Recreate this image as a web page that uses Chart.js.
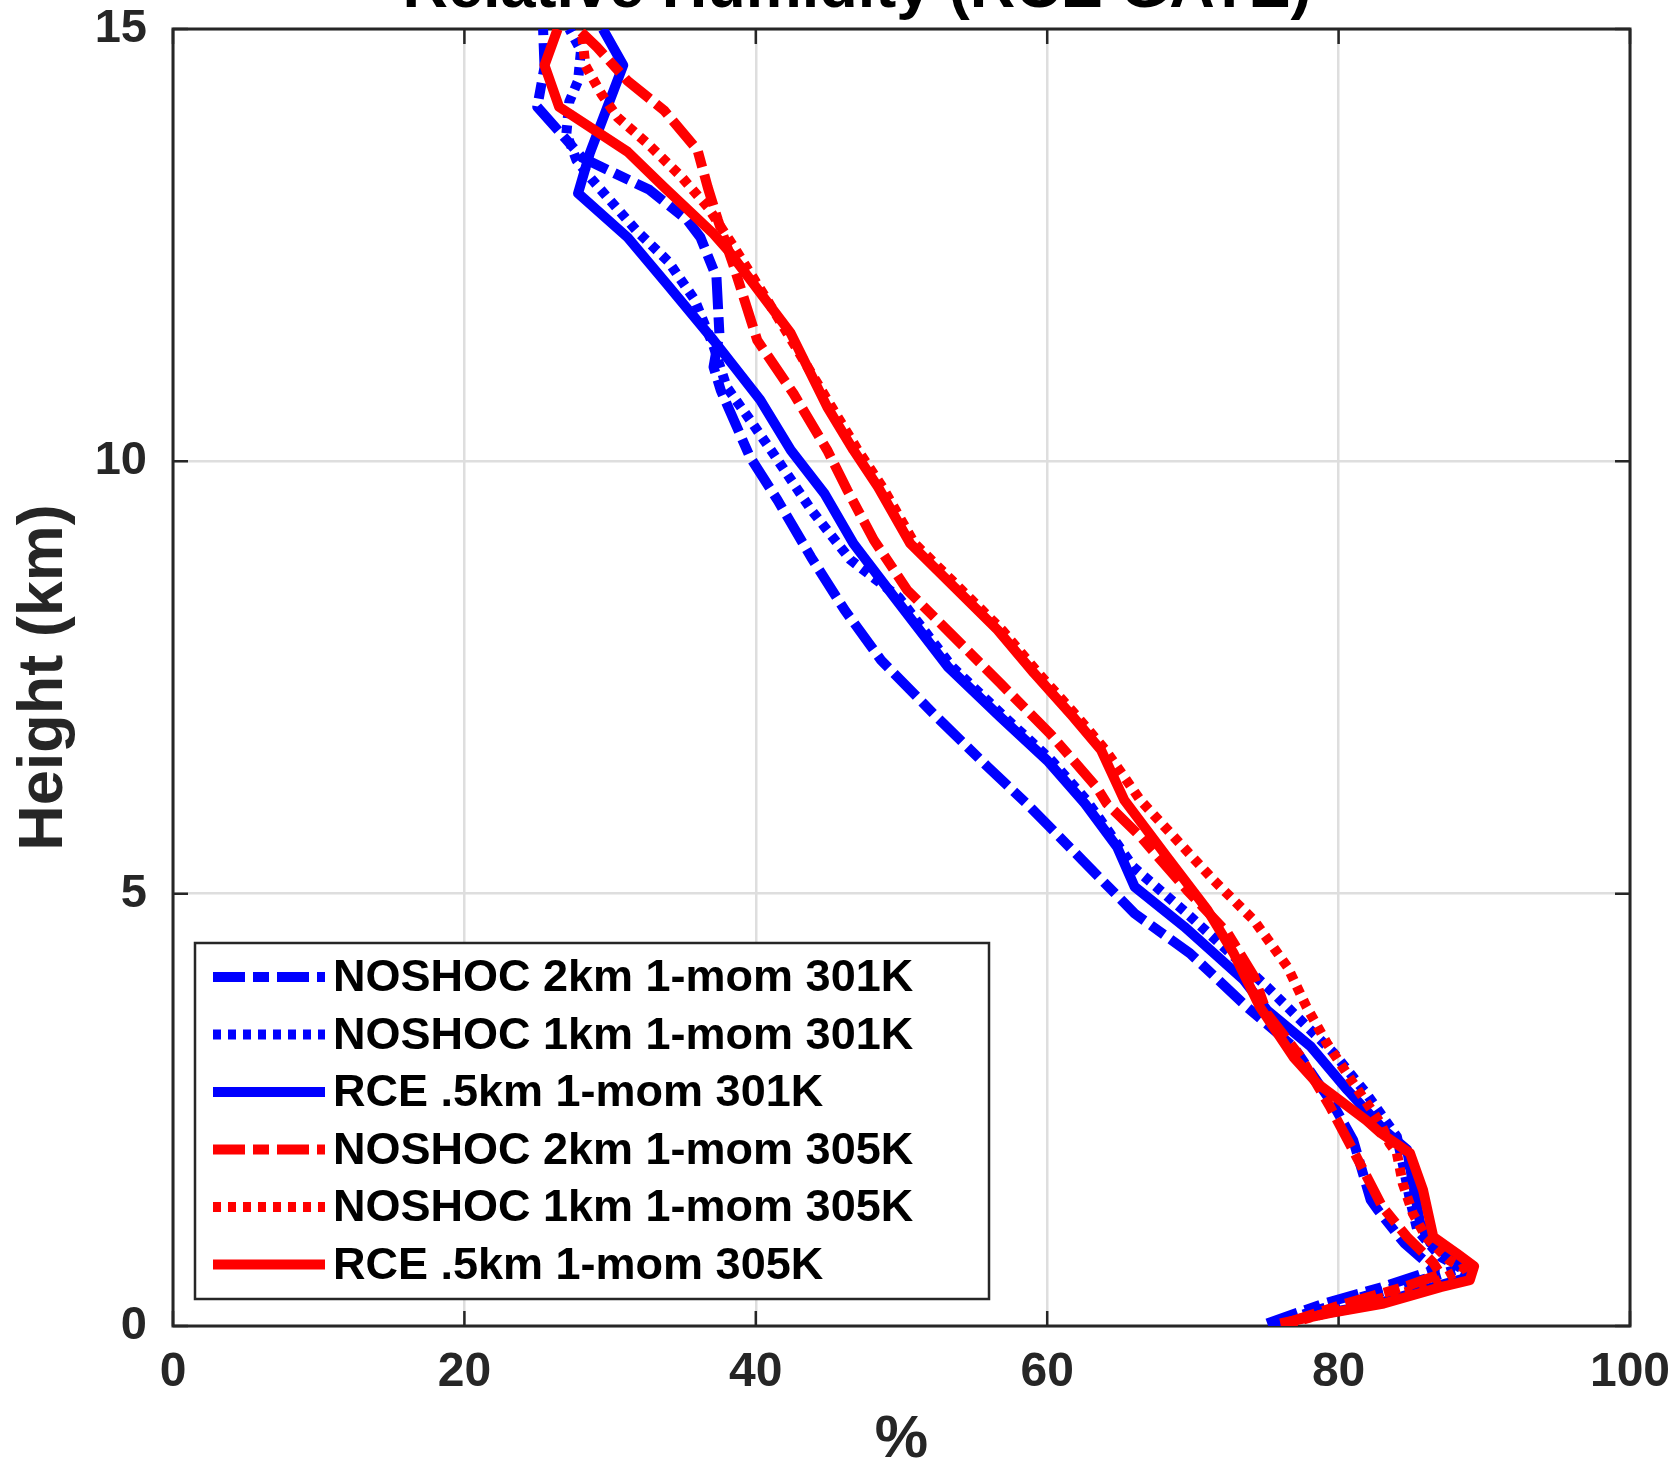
<!DOCTYPE html>
<html>
<head>
<meta charset="utf-8">
<script src="https://cdn.jsdelivr.net/npm/chart.js@4.4.1/dist/chart.umd.min.js"></script>
<style>
  html, body { margin: 0; padding: 0; background: #fff; overflow: hidden; width: 1668px; height: 1470px; }
  #wrap { position: absolute; left: 0; top: -42px; width: 1668px; height: 1512px; }
</style>
</head>
<body>
<div id="wrap"><canvas id="c" width="1668" height="1512"></canvas></div>
<script>
// Relative humidity profiles: height levels (km) and RH (%) for each run, bottom to top.
const noshoc2k301Height = [0.03, 0.26, 0.45, 0.65, 0.96, 1.34, 1.46, 2.15, 2.54, 3.23, 3.69, 4.31, 4.77, 5.39, 6.04, 6.47, 7.08, 7.70, 8.28, 8.89, 9.55, 10.05, 10.82, 11.09, 11.48, 12.13, 12.59, 12.79, 13.14, 13.51, 14.10, 14.56, 15.0];
const noshoc2k301Rh     = [75.1, 79.0, 83.0, 86.6, 84.5, 82.7, 82.2, 81.0, 79.7, 76.9, 73.7, 69.8, 66.0, 62.4, 58.6, 55.9, 52.2, 48.6, 46.1, 43.8, 41.5, 39.6, 37.6, 37.1, 37.5, 37.3, 36.2, 35.3, 32.7, 28.1, 25.0, 25.5, 25.4];

const noshoc1k301Height = [0.03, 0.26, 0.45, 0.67, 0.80, 1.11, 1.46, 1.88, 2.19, 2.69, 3.15, 3.92, 4.77, 5.31, 5.70, 6.08, 6.54, 7.04, 7.62, 8.43, 8.86, 9.44, 10.09, 10.48, 10.86, 11.33, 11.87, 12.31, 12.67, 13.25, 13.48, 13.79, 14.16, 14.40, 14.75, 15.0];
const noshoc1k301Rh     = [75.6, 80.0, 84.0, 88.4, 87.0, 85.4, 84.9, 84.4, 84.0, 81.9, 79.7, 75.1, 69.6, 65.9, 64.3, 62.7, 60.3, 57.1, 53.5, 49.8, 46.5, 43.8, 41.2, 39.6, 38.0, 37.1, 35.8, 34.0, 31.8, 28.8, 27.7, 27.0, 27.2, 27.8, 28.0, 27.2];

const rce301Height = [0.03, 0.15, 0.26, 0.45, 0.55, 0.69, 0.80, 0.96, 1.19, 1.65, 2.04, 2.27, 2.73, 3.23, 3.65, 4.00, 4.62, 5.08, 5.54, 6.04, 6.54, 7.04, 7.62, 8.43, 9.05, 9.63, 10.13, 10.71, 11.40, 12.05, 12.59, 13.10, 13.56, 14.58, 15.0];
const rce301Rh     = [75.8, 79.2, 82.7, 86.5, 88.6, 88.9, 87.6, 86.3, 85.6, 85.1, 84.7, 83.1, 80.6, 78.1, 75.1, 73.5, 69.4, 66.0, 64.8, 62.6, 60.0, 56.8, 53.2, 49.5, 46.7, 44.7, 42.4, 40.3, 37.1, 33.9, 31.2, 27.8, 28.6, 30.9, 29.5];

const noshoc2k305Height = [0.03, 0.26, 0.45, 0.60, 0.73, 1.03, 1.38, 2.03, 2.54, 3.11, 3.61, 4.04, 4.54, 5.04, 5.66, 6.04, 6.23, 6.85, 7.43, 7.97, 8.51, 9.09, 9.66, 10.13, 10.78, 11.40, 12.25, 12.79, 13.17, 13.60, 14.06, 14.40, 14.79, 15.0];
const noshoc2k305Rh     = [76.3, 80.5, 84.5, 87.0, 86.5, 84.7, 83.0, 81.0, 79.4, 77.4, 75.1, 74.2, 72.4, 69.6, 66.4, 64.1, 63.4, 60.2, 56.8, 53.6, 50.4, 48.1, 46.3, 44.9, 42.6, 40.1, 38.5, 37.4, 36.7, 36.0, 33.7, 31.2, 29.1, 27.8];

const noshoc1k305Height = [0.03, 0.26, 0.45, 0.67, 0.76, 1.03, 1.30, 1.65, 2.00, 2.11, 2.34, 2.81, 3.27, 3.69, 4.15, 4.69, 5.16, 5.62, 6.08, 6.66, 7.04, 7.55, 8.05, 8.55, 9.05, 9.70, 10.13, 10.63, 11.36, 11.86, 12.48, 12.94, 13.29, 13.67, 13.98, 14.25, 14.58, 14.90, 15.0];
const noshoc1k305Rh     = [76.6, 81.5, 86.0, 88.6, 87.6, 86.0, 85.1, 84.4, 84.0, 83.5, 82.9, 81.0, 79.2, 77.8, 76.5, 74.2, 71.4, 68.9, 66.4, 64.0, 62.1, 59.4, 56.9, 53.9, 50.9, 48.7, 47.0, 45.2, 42.6, 40.8, 38.5, 36.7, 34.9, 32.6, 30.5, 29.4, 28.3, 28.1, 28.0];

const rce305Height = [0.03, 0.15, 0.26, 0.45, 0.53, 0.69, 0.84, 1.03, 1.57, 2.00, 2.23, 2.38, 2.81, 3.11, 3.69, 4.31, 4.81, 5.43, 6.08, 6.66, 7.04, 7.55, 8.05, 8.55, 9.05, 9.70, 10.13, 10.63, 11.48, 12.44, 12.63, 13.17, 13.58, 14.10, 14.58, 15.0];
const rce305Rh     = [76.0, 79.4, 83.1, 87.0, 89.0, 89.3, 88.1, 86.5, 85.8, 84.9, 82.9, 81.9, 78.5, 76.9, 74.6, 72.8, 71.0, 68.2, 65.3, 63.7, 61.8, 59.1, 56.6, 53.6, 50.6, 48.4, 46.7, 44.9, 42.4, 38.1, 37.1, 33.7, 31.2, 26.5, 25.5, 26.4];

const seriesLabels = [
  'NOSHOC 2km 1-mom 301K',
  'NOSHOC 1km 1-mom 301K',
  'RCE .5km 1-mom 301K',
  'NOSHOC 2km 1-mom 305K',
  'NOSHOC 1km 1-mom 305K',
  'RCE .5km 1-mom 305K'
];
const xTickValues = [0, 20, 40, 60, 80, 100];
const yTickValues = [0, 5, 10, 15];

const FONT = "'Liberation Sans', Arial, Helvetica, sans-serif";
const BLUE = '#0000ff';
const RED = '#ff0000';
const DASH_DOT = [32, 8, 16, 8];
const DOTTED = [8, 7];
const LINE_W = 10;

const profiles = [
  [noshoc2k301Height, noshoc2k301Rh, BLUE, DASH_DOT],
  [noshoc1k301Height, noshoc1k301Rh, BLUE, DOTTED],
  [rce301Height, rce301Rh, BLUE, []],
  [noshoc2k305Height, noshoc2k305Rh, RED, DASH_DOT],
  [noshoc1k305Height, noshoc1k305Rh, RED, DOTTED],
  [rce305Height, rce305Rh, RED, []]
];

const datasets = profiles.map(([h, rh, color, dash], i) => ({
  label: seriesLabels[i],
  data: h.map((z, k) => ({ x: rh[k], y: z })),
  showLine: true,
  borderColor: color,
  backgroundColor: color,
  borderWidth: LINE_W,
  borderDash: dash,
  borderCapStyle: 'butt',
  borderJoinStyle: 'round',
  pointRadius: 0,
  pointHoverRadius: 0,
  tension: 0,
  fill: false,
  order: profiles.length - i
}));

// Axes box with inward tick marks on all four sides.
const axesBox = {
  id: 'axesBox',
  beforeDatasetsDraw(chart) {
    const { ctx, chartArea: a, scales: { x, y } } = chart;
    const len = 15;
    ctx.save();
    ctx.strokeStyle = '#262626';
    ctx.lineWidth = 2.5;
    ctx.beginPath();
    x.ticks.forEach(t => {
      const px = x.getPixelForValue(t.value);
      ctx.moveTo(px, a.bottom); ctx.lineTo(px, a.bottom - len);
      ctx.moveTo(px, a.top); ctx.lineTo(px, a.top + len);
    });
    y.ticks.forEach(t => {
      const py = y.getPixelForValue(t.value);
      ctx.moveTo(a.left, py); ctx.lineTo(a.left + len, py);
      ctx.moveTo(a.right, py); ctx.lineTo(a.right - len, py);
    });
    ctx.stroke();
    ctx.lineWidth = 3;
    ctx.strokeRect(a.left, a.top, a.right - a.left, a.bottom - a.top);
    ctx.restore();
  }
};

// Boxed legend in the lower-left corner of the plot area.
const boxedLegend = {
  id: 'boxedLegend',
  afterDraw(chart) {
    const { ctx, chartArea: a } = chart;
    const left = a.left + 22, width = 794, height = 356;
    const top = a.bottom - 27 - height;
    ctx.save();
    ctx.fillStyle = '#ffffff';
    ctx.fillRect(left, top, width, height);
    ctx.strokeStyle = '#262626';
    ctx.lineWidth = 2.5;
    ctx.strokeRect(left, top, width, height);
    ctx.font = "bold 45px " + FONT;
    ctx.textBaseline = 'middle';
    ctx.textAlign = 'left';
    chart.data.datasets.forEach((ds, i) => {
      const cy = top + 36 + i * 57.5;
      ctx.beginPath();
      ctx.setLineDash(ds.borderDash);
      ctx.lineCap = 'butt';
      ctx.lineWidth = 10;
      ctx.strokeStyle = ds.borderColor;
      ctx.moveTo(left + 18, cy - 2);
      ctx.lineTo(left + 130, cy - 2);
      ctx.stroke();
      ctx.setLineDash([]);
      ctx.fillStyle = '#000000';
      ctx.fillText(ds.label, left + 138, cy);
    });
    ctx.restore();
  }
};

new Chart(document.getElementById('c'), {
  type: 'scatter',
  data: { datasets },
  plugins: [axesBox, boxedLegend],
  options: {
    responsive: false,
    animation: false,
    devicePixelRatio: 1,
    layout: { padding: { left: 84, right: 38, top: 0, bottom: 0 } },
    plugins: {
      legend: { display: false },
      tooltip: { enabled: false },
      title: {
        display: true,
        text: 'Relative Humidity (RCE GATE)',
        color: '#000000',
        font: { family: FONT, size: 63, weight: 'bold', lineHeight: 1 },
        padding: { top: 0, bottom: 8 }
      }
    },
    scales: {
      x: {
        type: 'linear',
        min: 0, max: 100,
        afterBuildTicks: s => { s.ticks = xTickValues.map(v => ({ value: v })); },
        afterFit: s => { s.height = 144; s.paddingLeft = 0; s.paddingRight = 0; },
        ticks: {
          color: '#262626',
          padding: 23,
          maxRotation: 0,
          font: { family: FONT, size: 48, weight: 'bold', lineHeight: 1 }
        },
        grid: { color: '#dedede', lineWidth: 2.5, drawTicks: false },
        border: { display: false },
        title: {
          display: true,
          text: '%',
          color: '#262626',
          font: { family: FONT, size: 60, weight: 'bold', lineHeight: 1 },
          padding: { top: 0, bottom: 0 }
        }
      },
      y: {
        type: 'linear',
        min: 0, max: 15,
        afterBuildTicks: s => { s.ticks = yTickValues.map(v => ({ value: v })); },
        afterFit: s => { s.width = 89; s.paddingTop = 0; s.paddingBottom = 0; },
        ticks: {
          color: '#262626',
          padding: 26,
          font: { family: FONT, size: 47, weight: 'bold', lineHeight: 1 }
        },
        grid: { color: '#dedede', lineWidth: 2.5, drawTicks: false },
        border: { display: false },
        title: {
          display: true,
          text: 'Height (km)',
          color: '#262626',
          font: { family: FONT, size: 63, weight: 'bold', lineHeight: 1 },
          padding: { top: -70.5, bottom: 0 }
        }
      }
    }
  }
});
</script>
</body>
</html>
